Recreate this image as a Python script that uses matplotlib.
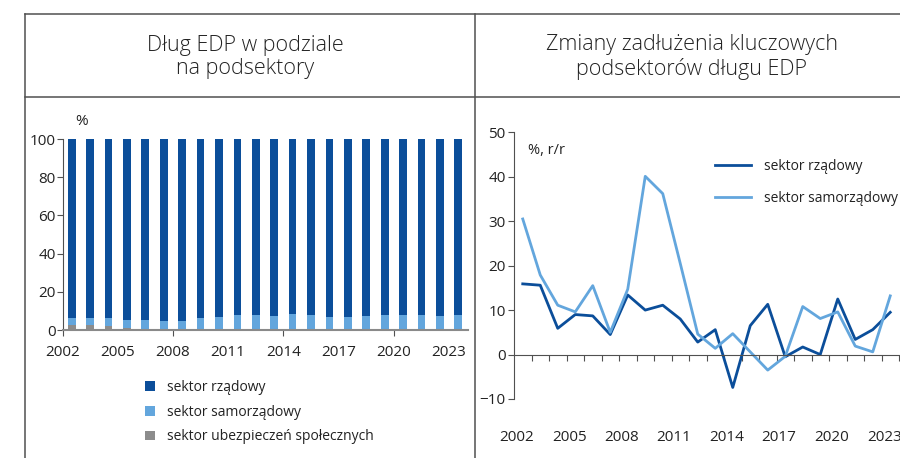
import numpy as np
import matplotlib
matplotlib.use("Agg")
import matplotlib.pyplot as plt
from matplotlib.lines import Line2D

plt.rcParams['font.family'] = ['Open Sans', 'DejaVu Sans']

# lata i etykiety osi
years = list(range(2002, 2024))
year_labels = ["2002", "2005", "2008", "2011", "2014", "2017", "2020", "2023"]

# struktura dlugu EDP (% calosci)
share_ubezp = [2.4, 2.4, 1.9, 1.0, 0.7, 0.3, 0.2, 0.5, 0.2, 0.1, 0.1, 0.1,
               0.1, 0.1, 0.1, 0.1, 0.1, 0.1, 0.1, 0.1, 0.1, 0.1]
share_samorz = [3.9, 3.9, 4.4, 4.4, 4.5, 4.4, 4.5, 5.8, 6.6, 7.7, 7.7, 7.1,
                8.2, 7.7, 6.6, 6.6, 7.1, 7.7, 7.7, 7.5, 7.1, 7.5]
share_rzad = [93.7, 93.7, 93.7, 94.6, 94.8, 95.3, 95.3, 93.7, 93.2, 92.2, 92.2, 92.8,
              91.7, 92.2, 93.3, 93.3, 92.8, 92.2, 92.2, 92.4, 92.8, 92.4]

# dynamika zadluzenia (%, r/r)
chg_rzad = [15.9, 15.6, 5.9, 9.0, 8.7, 4.5, 13.4, 10.0, 11.1, 8.0, 2.8, 5.6,
            -7.4, 6.5, 11.3, -0.5, 1.7, 0.0, 12.5, 3.4, 5.6, 9.5]
chg_samorz = [30.5, 17.9, 11.1, 9.6, 15.5, 5.0, 14.7, 40.1, 36.2, 20.5, 4.6, 1.4,
              4.7, 0.6, -3.5, -0.4, 10.8, 8.1, 9.6, 1.9, 0.6, 13.2]

dark = "#0b4e9a"
light = "#63a6dd"
grey = "#8c8c8c"
frame = "#505050"
txt = "#222222"

fig = plt.figure(figsize=(9, 4.58), dpi=100)

# ramka tabeli z naglowkami
H = 458.0
def fy(p):
    return 1 - p / H
fig.add_artist(Line2D([25 / 900, 1], [fy(14), fy(14)], color=frame, lw=1.1))
fig.add_artist(Line2D([25 / 900, 1], [fy(97), fy(97)], color=frame, lw=1.1))
fig.add_artist(Line2D([25 / 900, 25 / 900], [0, fy(14)], color=frame, lw=1.1))
fig.add_artist(Line2D([475 / 900, 475 / 900], [0, fy(14)], color=frame, lw=1.1))

fig.text(245 / 900, fy(57), "Dług EDP w podziale\nna podsektory", ha="center", va="center",
         fontsize=15.5, fontweight="light", color=txt, linespacing=1.15)
fig.text(692 / 900, fy(57), "Zmiany zadłużenia kluczowych\npodsektorów długu EDP", ha="center",
         va="center", fontsize=15.5, fontweight="light", color=txt, linespacing=1.15)

# lewy wykres - slupki skumulowane
x = np.arange(len(years))
ax1 = fig.add_axes([62.5 / 900, fy(330), 405 / 900, 191 / H])
b1 = ax1.bar(x, share_ubezp, width=0.42, color=grey)
b2 = ax1.bar(x, share_samorz, width=0.42, bottom=share_ubezp, color=light)
bottom2 = np.array(share_ubezp) + np.array(share_samorz)
b3 = ax1.bar(x, share_rzad, width=0.42, bottom=bottom2, color=dark)
ax1.set_xlim(-0.5, 21.5)
ax1.set_ylim(0, 100)
ax1.set_yticks(range(0, 101, 20))
for s in ["top", "right"]:
    ax1.spines[s].set_visible(False)
ax1.spines["left"].set_color(frame)
ax1.spines["bottom"].set_color("#8a8a8a")
ax1.spines["bottom"].set_linewidth(1.5)
ax1.set_xticks([-0.5, 5.5, 11.5, 17.5])
ax1.set_xticklabels([])
ax1.tick_params(axis="x", length=4, color=frame)
ax1.tick_params(axis="y", length=4, pad=1, labelsize=11, labelcolor=txt, color=frame)
for i, lab in enumerate(year_labels):
    ax1.text(-0.5 + 3 * i, -0.12, lab, transform=ax1.get_xaxis_transform(),
             ha="center", va="center", fontsize=11, color=txt)
ax1.text(0.2, 105, "%", fontsize=11, color=txt, ha="left", va="bottom")
ax1.legend([b3, b2, b1], ["sektor rządowy", "sektor samorządowy", "sektor ubezpieczeń społecznych"],
           loc="upper left", bbox_to_anchor=(138 / 900, fy(373)), bbox_transform=fig.transFigure,
           frameon=False, fontsize=10, handlelength=0.7, handleheight=0.7, handletextpad=0.9,
           labelspacing=0.7, labelcolor=txt, borderpad=0)

# prawy wykres - linie
ax2 = fig.add_axes([514 / 900, fy(399), 385 / 900, 266.7 / H])
l1, = ax2.plot(x, chg_rzad, color=dark, lw=2)
l2, = ax2.plot(x, chg_samorz, color=light, lw=2)
ax2.set_xlim(-0.5, 21.5)
ax2.set_ylim(-10, 50)
ax2.set_yticks(range(-10, 51, 10))
for s in ["top", "right"]:
    ax2.spines[s].set_visible(False)
ax2.spines["left"].set_color(frame)
ax2.spines["bottom"].set_position(("data", 0))
ax2.spines["bottom"].set_color(frame)
ax2.set_xticks(np.arange(0.5, 21.6, 1))
ax2.set_xticklabels([])
ax2.tick_params(axis="x", length=4, color=frame)
ax2.tick_params(axis="y", length=4, pad=2, labelsize=11, labelcolor=txt, color=frame)
for i, lab in enumerate(year_labels):
    ax2.text(-0.35 + 3 * i, -0.145, lab, transform=ax2.get_xaxis_transform(),
             ha="center", va="center", fontsize=11, color=txt)
ax2.text(0.3, 46, "%, r/r", fontsize=10.5, color=txt, ha="left", va="center")
ax2.legend([l1, l2], ["sektor rządowy", "sektor samorządowy"], loc="upper left",
           bbox_to_anchor=(708 / 900, fy(152)), bbox_transform=fig.transFigure, frameon=False,
           fontsize=10, handlelength=2.6, handletextpad=0.9, labelspacing=1.2,
           labelcolor=txt, borderpad=0)

fig.savefig("out.png", dpi=100)
